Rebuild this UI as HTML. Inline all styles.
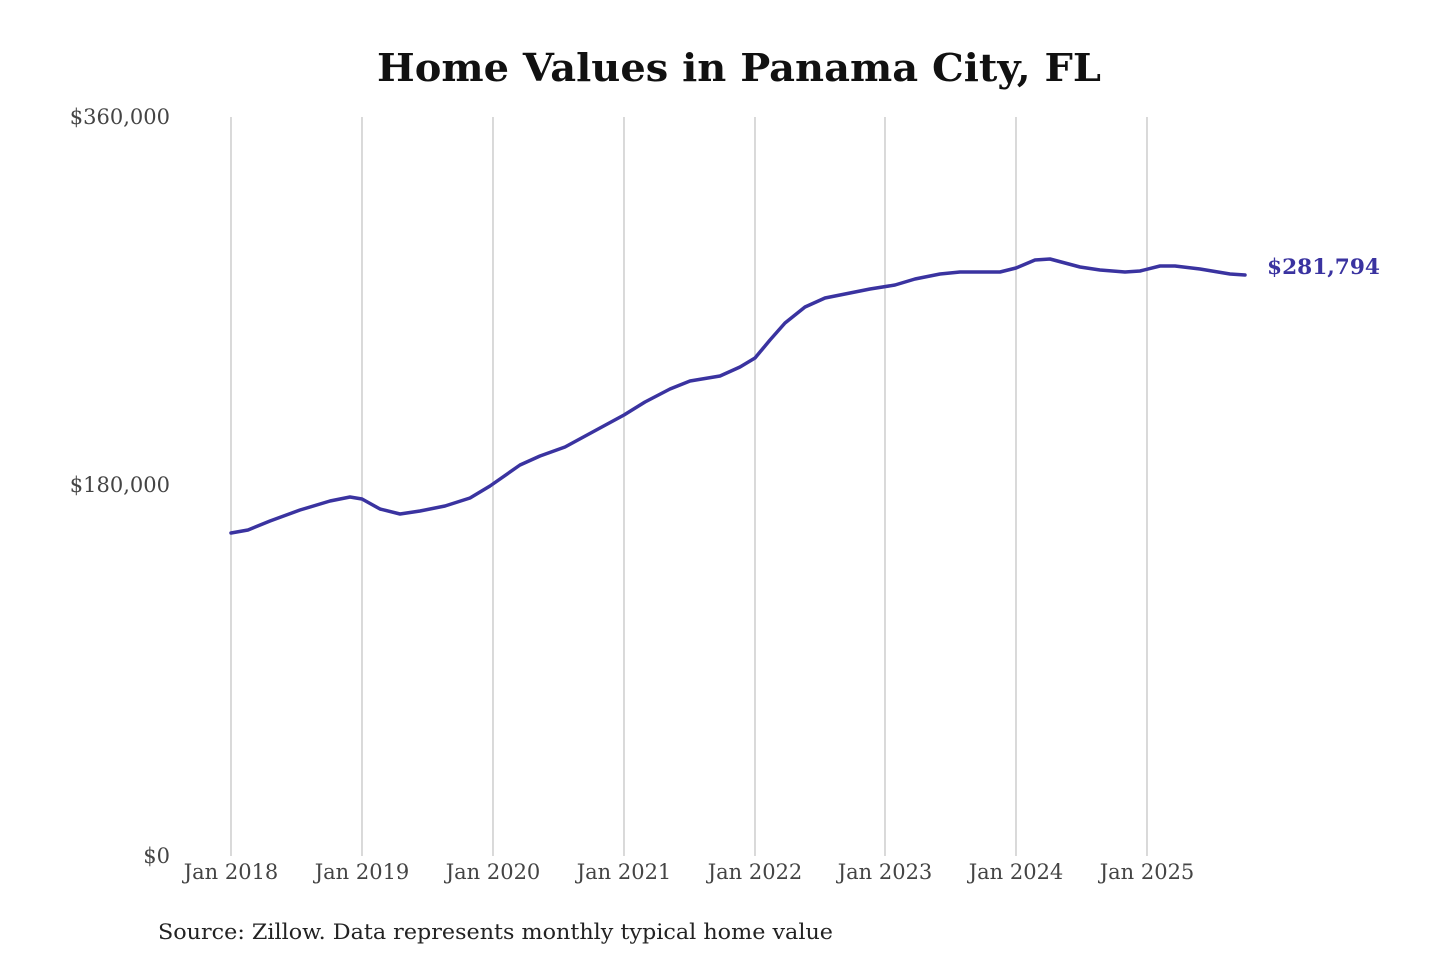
<!DOCTYPE html>
<html><head><meta charset="utf-8"><style>
html,body{margin:0;padding:0;background:#fff;}
svg{display:block;}
text{font-family:"DejaVu Serif","Liberation Serif",serif;}
</style></head><body>
<svg width="1440" height="960" viewBox="0 0 1440 960" xmlns="http://www.w3.org/2000/svg">
<rect width="1440" height="960" fill="#fff"/>
<text x="739" y="81" text-anchor="middle" font-size="38" font-weight="bold" fill="#111" textLength="724" lengthAdjust="spacingAndGlyphs">Home Values in Panama City, FL</text>
<g stroke="#c0c0c0" stroke-width="1.2">
<line x1="231" y1="117" x2="231" y2="856"/>
<line x1="362" y1="117" x2="362" y2="856"/>
<line x1="493" y1="117" x2="493" y2="856"/>
<line x1="624" y1="117" x2="624" y2="856"/>
<line x1="755" y1="117" x2="755" y2="856"/>
<line x1="885" y1="117" x2="885" y2="856"/>
<line x1="1016" y1="117" x2="1016" y2="856"/>
<line x1="1147" y1="117" x2="1147" y2="856"/>
</g>
<g font-size="21" fill="#444">
<text x="170" y="124" text-anchor="end">$360,000</text>
<text x="170" y="492" text-anchor="end">$180,000</text>
<text x="170" y="863" text-anchor="end">$0</text>
</g>
<g font-size="21" fill="#444" text-anchor="middle">
<text x="231" y="879">Jan 2018</text>
<text x="362" y="879">Jan 2019</text>
<text x="493" y="879">Jan 2020</text>
<text x="624" y="879">Jan 2021</text>
<text x="755" y="879">Jan 2022</text>
<text x="885" y="879">Jan 2023</text>
<text x="1016" y="879">Jan 2024</text>
<text x="1147" y="879">Jan 2025</text>
</g>
<polyline fill="none" stroke="#3a33a0" stroke-width="3.5" stroke-linejoin="round" stroke-linecap="round" points="231,533 248,530 270,521 300,510 330,501 350,497 362,499 380,509 400,514 420,511 445,506 470,498 490,486 520,465 540,456 565,447 600,428 624,415 645,402 670,389 690,381 720,376 740,367 755,358 770,340 785,323 805,307 825,298 845,294 870,289 895,285 915,279 940,274 960,272 1000,272 1016,268 1035,260 1050,259 1065,263 1080,267 1100,270 1125,272 1140,271 1160,266 1175,266 1200,269 1230,274 1245,275"/>
<text x="1267" y="274" font-size="21" font-weight="bold" fill="#3a33a0" textLength="113" lengthAdjust="spacingAndGlyphs">$281,794</text>
<text x="158" y="939" font-size="21" fill="#222" textLength="675" lengthAdjust="spacingAndGlyphs">Source: Zillow. Data represents monthly typical home value</text>
</svg>
</body></html>
